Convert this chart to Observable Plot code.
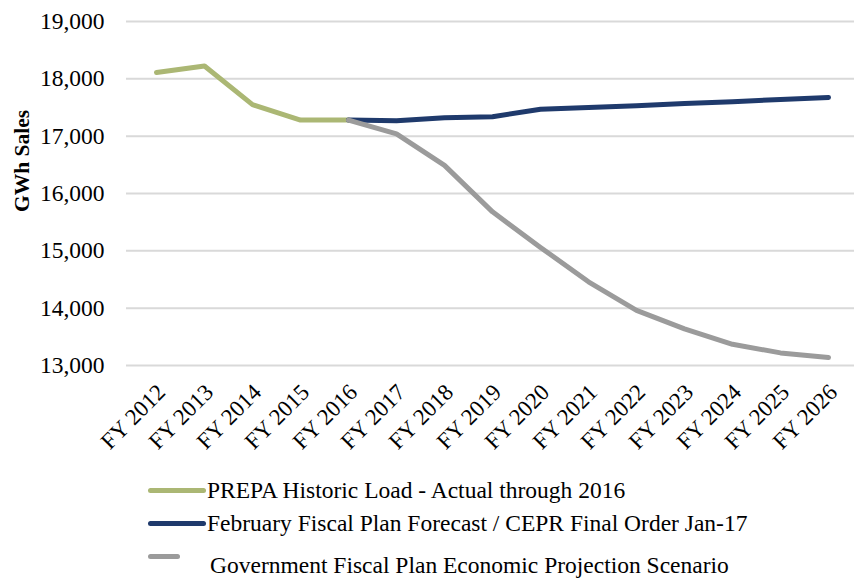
<!DOCTYPE html>
<html>
<head>
<meta charset="utf-8">
<script src="https://cdn.jsdelivr.net/npm/d3@7"></script>
<script src="https://cdn.jsdelivr.net/npm/@observablehq/plot@0.6"></script>
<style>
  html, body { margin: 0; padding: 0; background: #fff; }
  #wrap { position: relative; width: 854px; height: 578px; overflow: hidden; font-family: 'Liberation Serif', 'Times New Roman', Times, 'DejaVu Serif', serif; }
  #ytitle { position: absolute; left: 22px; top: 161px; transform: translate(-50%, -50%) rotate(-90deg); font-weight: bold; font-size: 21.5px; white-space: nowrap; color: #000; }
  .leg { position: absolute; font-size: 23.5px; color: #000; white-space: nowrap; }
  svg text { font-family: 'Liberation Serif', 'Times New Roman', Times, 'DejaVu Serif', serif; }
</style>
</head>
<body>
<div id="wrap">
  <div id="chart"></div>
  <div id="ytitle">GWh Sales</div>
  <div id="legend"></div>
</div>
<script>
const years = ["FY 2012","FY 2013","FY 2014","FY 2015","FY 2016","FY 2017","FY 2018","FY 2019","FY 2020","FY 2021","FY 2022","FY 2023","FY 2024","FY 2025","FY 2026"];
const historicYears = ["FY 2012","FY 2013","FY 2014","FY 2015","FY 2016"];
const historicLoad = [18110, 18225, 17550, 17280, 17280];
const forecastYears = ["FY 2016","FY 2017","FY 2018","FY 2019","FY 2020","FY 2021","FY 2022","FY 2023","FY 2024","FY 2025","FY 2026"];
const februaryForecast = [17280, 17270, 17320, 17340, 17470, 17500, 17530, 17570, 17600, 17640, 17675];
const governmentScenario = [17280, 17040, 16490, 15680, 15060, 14460, 13960, 13640, 13370, 13220, 13140];
const yTicks = [13000, 14000, 15000, 16000, 17000, 18000, 19000];
const seriesNames = ["PREPA Historic Load - Actual through 2016", "February Fiscal Plan Forecast / CEPR Final Order Jan-17", "Government Fiscal Plan Economic Projection Scenario"];
const seriesColors = ["#ABB774", "#1F3A6C", "#9B9B9B"];

const hist = historicYears.map((y, i) => ({year: y, value: historicLoad[i]}));
const feb = forecastYears.map((y, i) => ({year: y, value: februaryForecast[i]}));
const gov = forecastYears.map((y, i) => ({year: y, value: governmentScenario[i]}));

const fmt = d3.format(",");
const chart = Plot.plot({
  width: 854,
  height: 460,
  marginTop: 21,
  marginBottom: 95,
  marginLeft: 126,
  marginRight: 0,
  style: {fontFamily: "'Liberation Serif', 'Times New Roman', Times, 'DejaVu Serif', serif", fontSize: "22px", color: "#000", background: "#fff"},
  x: {type: "point", domain: years, range: [150, 833], padding: 0},
  y: {domain: [13000, 19000]},
  marks: [
    Plot.gridY(yTicks, {stroke: "#D9D9D9", strokeOpacity: 1, strokeWidth: 2}),
    Plot.axisY(yTicks, {tickSize: 0, tickPadding: 22, tickFormat: fmt, label: null, fontSize: 23.5}),
    Plot.axisX(years, {tickSize: 0, tickRotate: -45, tickPadding: 23, label: null, fontSize: 23, dx: 5}),
    Plot.line(hist, {x: "year", y: "value", stroke: seriesColors[0], strokeWidth: 5, strokeLinecap: "round", strokeLinejoin: "round"}),
    Plot.line(feb, {x: "year", y: "value", stroke: seriesColors[1], strokeWidth: 5, strokeLinecap: "round", strokeLinejoin: "round"}),
    Plot.line(gov, {x: "year", y: "value", stroke: seriesColors[2], strokeWidth: 5, strokeLinecap: "round", strokeLinejoin: "round"})
  ]
});
document.getElementById("chart").appendChild(chart);

const legend = document.getElementById("legend");
const rowCenters = [490, 523, 565];
const swW = [58, 58, 32];
const swY = [490, 523, 556];
seriesNames.forEach((name, i) => {
  const sw = document.createElement("div");
  sw.style.cssText = `position:absolute;left:148px;top:${swY[i] - 2.5}px;width:${swW[i]}px;height:5px;background:${seriesColors[i]};border-radius:3px;`;
  legend.appendChild(sw);
  const t = document.createElement("div");
  t.className = "leg";
  t.textContent = name;
  t.style.left = (i === 2 ? 210 : 207) + "px";
  t.style.top = (rowCenters[i] - 14) + "px";
  t.style.lineHeight = "28px";
  legend.appendChild(t);
});
</script>
</body>
</html>
